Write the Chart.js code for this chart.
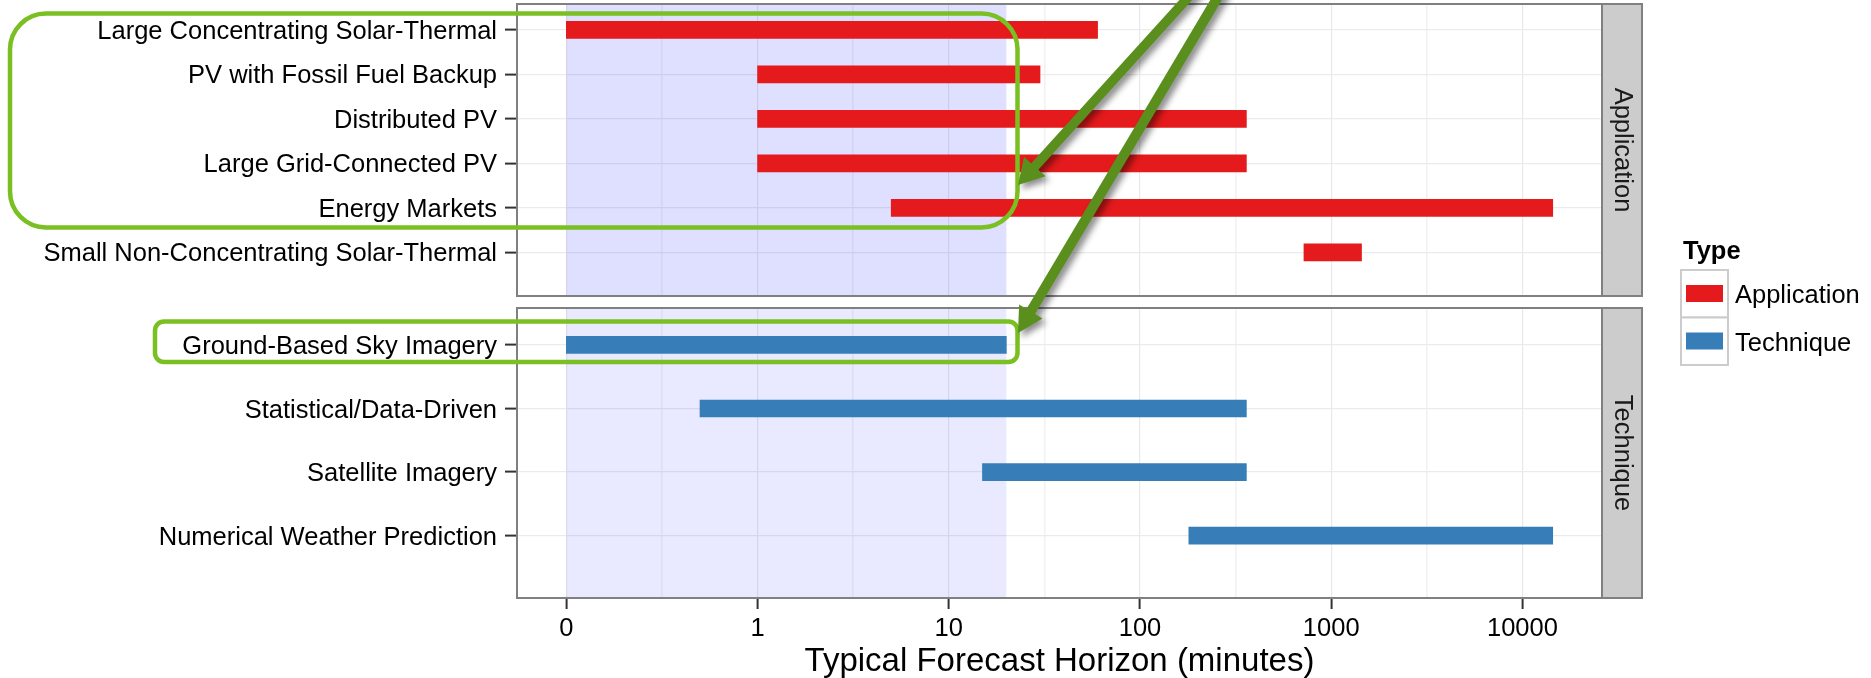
<!DOCTYPE html>
<html>
<head>
<meta charset="utf-8">
<script src="https://cdn.jsdelivr.net/npm/chart.js@4.4.1/dist/chart.umd.min.js"></script>
<style>
    html, body { margin: 0; padding: 0; background: #fff; }
    #wrap { position: relative; width: 1871px; height: 678px; overflow: hidden; }
    #wrap canvas { position: absolute; left: 0; }
</style>
</head>
<body>
<div id="wrap">
    <canvas id="appChart" width="1871" height="300" style="top:0px"></canvas>
    <canvas id="techChart" width="1871" height="378" style="top:300px"></canvas>
    <canvas id="overlay" width="1871" height="678" style="top:0px"></canvas>
</div>
<script>
// Horizontes de pronóstico en minutos
const appLabels = ['Large Concentrating Solar-Thermal', 'PV with Fossil Fuel Backup', 'Distributed PV',
    'Large Grid-Connected PV', 'Energy Markets', 'Small Non-Concentrating Solar-Thermal'];
const appStart = [0, 1, 1, 1, 5, 720];
const appEnd = [60, 30, 360, 360, 14400, 1440];

const techLabels = ['Ground-Based Sky Imagery', 'Statistical/Data-Driven', 'Satellite Imagery',
    'Numerical Weather Prediction'];
const techStart = [0, 0.5, 15, 180];
const techEnd = [20, 360, 360, 14400];

const xTickValues = [0, 1, 10, 100, 1000, 10000];
const shadeRange = [0, 20];
const panelNames = ['Application', 'Technique'];
const legendTitle = 'Type';
const axisTitle = 'Typical Forecast Horizon (minutes)';

const RED = '#E41A1C';
const BLUE = '#377EB8';
const FONT = "'Liberation Sans', Arial, sans-serif";

// "0" se dibuja una década por debajo de 1
const ZERO_POS = 0.1;
function pos(v) { return v === 0 ? ZERO_POS : v; }

const XMIN = Math.pow(10, -1.258);
const XMAX = Math.pow(10, 4.416);

// líneas menores a mitad de década
const majorPos = xTickValues.map(pos);
const minorPos = [];
for (let i = 0; i < majorPos.length - 1; i++) {
    minorPos.push(Math.sqrt(majorPos[i] * majorPos[i + 1]));
}
const gridPos = majorPos.concat(minorPos).sort((a, b) => a - b);

function majorIndex(v) {
    return majorPos.findIndex(p => Math.abs(p - v) / p < 1e-6);
}

const panelDecor = {
    id: 'panelDecor',
    beforeDatasetsDraw(chart, args, opts) {
        const { ctx, chartArea: a } = chart;
        const x = chart.scales.x;
        const x0 = x.getPixelForValue(pos(shadeRange[0]));
        const x1 = x.getPixelForValue(pos(shadeRange[1]));
        ctx.save();
        ctx.fillStyle = opts.shade;
        ctx.fillRect(x0, a.top, x1 - x0, a.bottom - a.top);
        ctx.restore();
    },
    afterDatasetsDraw(chart, args, opts) {
        const { ctx, chartArea: a } = chart;
        ctx.save();
        // marco del panel
        ctx.strokeStyle = '#808080';
        ctx.lineWidth = 2;
        ctx.strokeRect(a.left, a.top, a.right - a.left, a.bottom - a.top);
        // franja lateral
        const sw = 40;
        ctx.fillStyle = '#cccccc';
        ctx.fillRect(a.right, a.top, sw, a.bottom - a.top);
        ctx.strokeRect(a.right, a.top, sw, a.bottom - a.top);
        ctx.translate(a.right + sw / 2, (a.top + a.bottom) / 2);
        ctx.rotate(Math.PI / 2);
        ctx.fillStyle = '#1a1a1a';
        ctx.font = '25.5px ' + FONT;
        ctx.textAlign = 'center';
        ctx.textBaseline = 'middle';
        ctx.fillText(opts.strip, 0, 0);
        ctx.restore();
    }
};

function buildOptions(labels, showX, padding, shade, strip) {
    const n = labels.length;
    return {
        responsive: false,
        animation: false,
        indexAxis: 'y',
        layout: { padding: padding },
        plugins: {
            legend: { display: false },
            tooltip: { enabled: false },
            panelDecor: { shade: shade, strip: strip }
        },
        scales: {
            x: {
                type: 'logarithmic',
                min: XMIN,
                max: XMAX,
                offset: false,
                afterBuildTicks: s => { s.ticks = gridPos.map(v => ({ value: v })); },
                afterFit: s => {
                    s.height = showX ? 80 : 0;
                    s.paddingLeft = 0;
                    s.paddingRight = 0;
                },
                border: { display: false },
                grid: {
                    offset: false,
                    color: c => majorIndex(c.tick.value) >= 0 ? '#e8e8e8' : '#f2f2f2',
                    lineWidth: c => majorIndex(c.tick.value) >= 0 ? 1.2 : 1.6,
                    drawTicks: showX,
                    tickLength: 11,
                    tickWidth: 2,
                    tickColor: c => majorIndex(c.tick.value) >= 0 ? '#333333' : 'rgba(0,0,0,0)'
                },
                ticks: {
                    display: showX,
                    autoSkip: false,
                    maxRotation: 0,
                    padding: 5,
                    color: '#000',
                    font: { family: FONT, size: 25.5, lineHeight: 1.2 },
                    callback: v => {
                        const i = majorIndex(v);
                        return i >= 0 ? String(xTickValues[i]) : '';
                    }
                },
                title: {
                    display: showX,
                    text: axisTitle,
                    color: '#000',
                    font: { family: FONT, size: 33, lineHeight: 1 },
                    padding: { top: 0, bottom: 0 }
                }
            },
            y: {
                type: 'linear',
                reverse: true,
                offset: false,
                min: -0.58,
                max: n - 1 + 0.98,
                afterBuildTicks: s => { s.ticks = labels.map((_, i) => ({ value: i })); },
                afterFit: s => {
                    s.width = 517;
                    s.paddingTop = 0;
                    s.paddingBottom = 0;
                },
                border: { display: false },
                grid: {
                    offset: false,
                    color: '#ebebeb',
                    lineWidth: 1.2,
                    tickLength: 12,
                    tickWidth: 2,
                    tickColor: '#333333'
                },
                ticks: {
                    autoSkip: false,
                    padding: 8,
                    labelOffset: 2,
                    color: '#000',
                    font: { family: FONT, size: 25.5, lineHeight: 1.2 },
                    callback: v => labels[v]
                }
            }
        }
    };
}

function buildData(labels, starts, ends, color) {
    return {
        datasets: [{
            data: labels.map((_, i) => ({ x: [pos(starts[i]), pos(ends[i])], y: i })),
            backgroundColor: color,
            borderWidth: 0,
            barThickness: 17
        }]
    };
}

const appChart = new Chart(document.getElementById('appChart'), {
    type: 'bar',
    data: buildData(appLabels, appStart, appEnd, RED),
    options: buildOptions(appLabels, false, { top: 4, bottom: 4, left: 0, right: 269 },
        'rgba(0,0,255,0.125)', panelNames[0]),
    plugins: [panelDecor]
});

const techChart = new Chart(document.getElementById('techChart'), {
    type: 'bar',
    data: buildData(techLabels, techStart, techEnd, BLUE),
    options: buildOptions(techLabels, true, { top: 8, bottom: 0, left: 0, right: 269 },
        'rgba(0,0,255,0.088)', panelNames[1]),
    plugins: [panelDecor]
});

// Anotaciones y leyenda
function roundRectPath(ctx, x, y, w, h, r) {
    ctx.beginPath();
    ctx.moveTo(x + r, y);
    ctx.lineTo(x + w - r, y);
    ctx.arcTo(x + w, y, x + w, y + r, r);
    ctx.lineTo(x + w, y + h - r);
    ctx.arcTo(x + w, y + h, x + w - r, y + h, r);
    ctx.lineTo(x + r, y + h);
    ctx.arcTo(x, y + h, x, y + h - r, r);
    ctx.lineTo(x, y + r);
    ctx.arcTo(x, y, x + r, y, r);
    ctx.closePath();
}

function drawArrow(ctx, sx, sy, tx, ty, w, L, W) {
    const dx = tx - sx, dy = ty - sy;
    const len = Math.hypot(dx, dy);
    const ux = dx / len, uy = dy / len;
    const nx = -uy, ny = ux;
    const bx = tx - ux * L, by = ty - uy * L;
    ctx.beginPath();
    ctx.moveTo(sx + nx * w / 2, sy + ny * w / 2);
    ctx.lineTo(bx + nx * w / 2, by + ny * w / 2);
    ctx.lineTo(bx + nx * W / 2, by + ny * W / 2);
    ctx.lineTo(tx, ty);
    ctx.lineTo(bx - nx * W / 2, by - ny * W / 2);
    ctx.lineTo(bx - nx * w / 2, by - ny * w / 2);
    ctx.lineTo(sx - nx * w / 2, sy - ny * w / 2);
    ctx.closePath();
    ctx.fill();
}

function drawOverlay() {
    const ctx = document.getElementById('overlay').getContext('2d');

    // recuadros verdes
    ctx.save();
    ctx.strokeStyle = '#7AC022';
    ctx.lineWidth = 4.5;
    roundRectPath(ctx, 10, 13.5, 1007.5, 214, 36);
    ctx.stroke();
    roundRectPath(ctx, 155, 321.5, 862.5, 40.5, 9);
    ctx.stroke();
    ctx.restore();

    // flechas
    ctx.save();
    ctx.fillStyle = '#5A8F1E';
    ctx.shadowColor = 'rgba(0,0,0,0.45)';
    ctx.shadowBlur = 6;
    ctx.shadowOffsetX = 4;
    ctx.shadowOffsetY = 4;
    drawArrow(ctx, 1204, -20, 1018, 185, 9.5, 25, 29);
    drawArrow(ctx, 1228, -20, 1018, 333, 10, 25, 27);
    ctx.restore();

    // leyenda
    ctx.save();
    ctx.fillStyle = '#000';
    ctx.font = 'bold 25.5px ' + FONT;
    ctx.textBaseline = 'alphabetic';
    ctx.fillText(legendTitle, 1683, 259);
    const keys = [
        { label: panelNames[0], color: RED, top: 270 },
        { label: panelNames[1], color: BLUE, top: 317.5 }
    ];
    keys.forEach(k => {
        ctx.fillStyle = '#fff';
        ctx.fillRect(1681, k.top, 47, 47.5);
        ctx.strokeStyle = '#cccccc';
        ctx.lineWidth = 2;
        ctx.strokeRect(1681, k.top, 47, 47.5);
        ctx.fillStyle = k.color;
        ctx.fillRect(1686, k.top + 15, 37, 17);
        ctx.fillStyle = '#000';
        ctx.font = '25.5px ' + FONT;
        ctx.fillText(k.label, 1735, k.top + 33);
    });
    ctx.restore();
}

drawOverlay();
</script>
</body>
</html>
